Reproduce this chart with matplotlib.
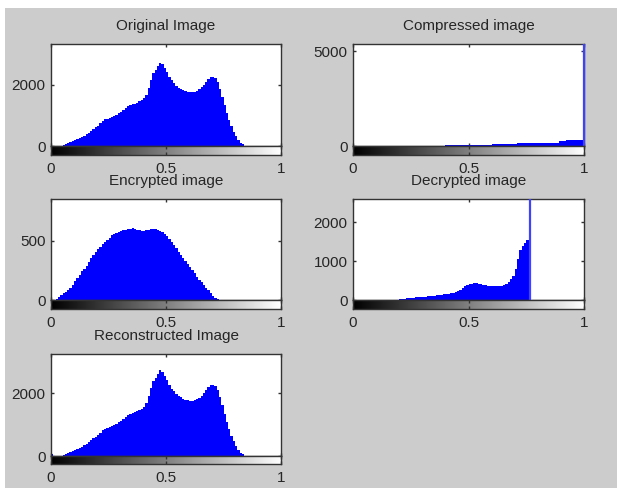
import numpy as np
import matplotlib
matplotlib.use("Agg")
import matplotlib.pyplot as plt
from matplotlib.patches import Rectangle

# ---------------- data ----------------
bin_left = [i / 100 for i in range(100)]   # bin left edges, width 0.01
x_ticks = [0, 0.5, 1]
x_tick_labels = ["0", "0.5", "1"]

titles = ["Original Image", "Compressed image", "Encrypted image",
          "Decrypted image", "Reconstructed Image"]

orig_counts = [0, 0, 0, 0, 0, 40, 70, 100, 130, 160,
               190, 215, 250, 290, 340, 390, 440, 500, 560, 610,
               670, 740, 820, 870, 900, 930, 960, 990, 1030, 1080,
               1130, 1190, 1250, 1310, 1340, 1370, 1390, 1420, 1460, 1500,
               1560, 1680, 1900, 2180, 2380, 2500, 2620, 2730, 2680, 2560,
               2420, 2270, 2150, 2060, 1970, 1910, 1870, 1830, 1800, 1780,
               1760, 1760, 1780, 1810, 1860, 1930, 2010, 2100, 2190, 2250,
               2270, 2240, 2100, 1880, 1620, 1330, 1080, 860, 640, 470,
               330, 200, 110, 50, 15, 0, 0, 0, 0, 0,
               0, 0, 0, 0, 0, 0, 0, 0, 0, 0]

comp_counts = [0] * 40 + [55] * 20 + [105] * 11 + [180] * 18 + [250] * 3 + [335] * 8
comp_spike_x = 1.0
comp_spike_count = 5370

enc_counts = [0, 0, 10, 25, 40, 55, 70, 85, 105, 130,
              160, 185, 210, 240, 265, 290, 320, 350, 380, 405,
              430, 450, 470, 490, 505, 525, 545, 555, 565, 575,
              580, 585, 590, 595, 600, 605, 595, 590, 585, 580,
              580, 585, 590, 595, 598, 595, 590, 580, 570, 555,
              535, 515, 485, 460, 435, 405, 380, 355, 330, 300,
              275, 250, 225, 195, 170, 150, 125, 100, 80, 55,
              35, 20, 10, 0, 0, 0, 0, 0, 0, 0,
              0, 0, 0, 0, 0, 0, 0, 0, 0, 0,
              0, 0, 0, 0, 0, 0, 0, 0, 0, 0]

dec_counts = [0] * 20 + [20, 25, 30, 40, 45, 50, 55, 65, 70, 75,
              85, 90, 95, 100, 110, 115, 120, 130, 135, 145,
              155, 160, 170, 185, 200, 230, 270, 310, 350, 380,
              400, 415, 425, 430, 420, 405, 390, 380, 370, 360,
              355, 350, 350, 355, 365, 380, 410, 460, 530, 620,
              800, 1050, 1300, 1400, 1470, 1540, 1420] + [0] * 23
dec_spike_x = 0.765
dec_spike_count = 3000

recon_counts = [60] + orig_counts[1:]

y_limits = [3344, 5371, 850, 2600, 3254]
y_ticks = [[0, 2000], [0, 5000], [0, 500], [0, 1000, 2000], [0, 2000]]

# ---------------- figure ----------------
W, H = 617, 488
fig = plt.figure(figsize=(W / 100, H / 100), dpi=100, facecolor="#cccccc")
plt.rcParams["font.family"] = ["Liberation Sans", "DejaVu Sans"]

# white strips at top and left of the screenshot
fig.patches.append(Rectangle((0, 1 - 8 / H), 1, 8 / H, transform=fig.transFigure,
                             facecolor="white", edgecolor="none", zorder=0))
fig.patches.append(Rectangle((0, 0), 5 / W, 1, transform=fig.transFigure,
                             facecolor="white", edgecolor="none", zorder=0))

# (left px, right px, top px, zero px, colorbar-bottom px)
boxes = [(51, 281, 44, 146, 155),
         (353, 584, 44, 146, 155),
         (51, 281, 199, 300, 309),
         (353, 584, 199, 300, 309),
         (51, 281, 354, 456, 464)]

series = [orig_counts, comp_counts, enc_counts, dec_counts, recon_counts]
spikes = [None, (comp_spike_x, comp_spike_count), None,
          (dec_spike_x, dec_spike_count), None]

text_color = "#262626"
gradient = np.linspace(0, 1, 256).reshape(1, -1)

for i, (l, r, t, z, cb) in enumerate(boxes):
    ax = fig.add_axes([l / W, (H - z) / H, (r - l) / W, (z - t) / H])
    ax.set_facecolor("white")
    ax.bar(bin_left, series[i], width=0.0101, align="edge",
           color="#0000ff", edgecolor="none", zorder=2)
    if spikes[i] is not None:
        sx, sc = spikes[i]
        at_edge = sx >= 1.0
        ax.vlines([sx], [0], [sc], colors="#4040ff", linewidth=1.6,
                  zorder=4, clip_on=not at_edge)
    ax.set_xlim(0, 1)
    ax.set_ylim(0, y_limits[i])
    ax.set_xticks(x_ticks)
    ax.set_xticklabels([])
    ax.set_yticks(y_ticks[i])
    ax.set_yticklabels([str(v) for v in y_ticks[i]])
    ax.tick_params(direction="in", length=2.5, width=1, colors="#333333",
                   top=True, right=True, labelsize=11, pad=4,
                   labelcolor=text_color)
    for s in ax.spines.values():
        s.set_color("#333333")
        s.set_linewidth(1.0)
    ax.set_title(titles[i], fontsize=11, color=text_color, pad=10)

    cax = fig.add_axes([l / W, (H - cb) / H, (r - l) / W, (cb - z) / H])
    cax.imshow(gradient, cmap="gray", aspect="auto", extent=[0, 1, 0, 1],
               interpolation="bilinear")
    cax.set_xlim(0, 1)
    cax.set_ylim(0, 1)
    cax.set_yticks([])
    cax.set_xticks(x_ticks)
    cax.set_xticklabels(x_tick_labels)
    cax.tick_params(direction="in", length=2.5, width=1, colors="#333333",
                    top=True, labelsize=11, pad=5, labelcolor=text_color)
    for s in cax.spines.values():
        s.set_color("#333333")
        s.set_linewidth(1.0)

fig.savefig("out.png", dpi=100, facecolor=fig.get_facecolor())
